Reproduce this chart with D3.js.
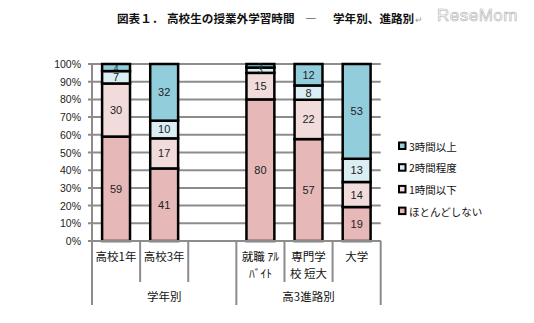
<!DOCTYPE html>
<html>
<head>
<meta charset="utf-8">
<script src="https://cdn.jsdelivr.net/npm/d3@7"></script>
<style>
  html, body { margin: 0; padding: 0; background: #fff; }
  svg { display: block; font-family: "Noto Sans CJK JP", "Noto Sans", sans-serif; }
</style>
</head>
<body>
<svg id="chart" width="534" height="323"></svg>
<script>
// Categories (label lines) and their groups
const categories = ["c1", "c3", "gap", "job", "voc", "univ"];
const categoryLines = [["高校1年"], ["高校3年"], [""], ["就職 ｱﾙ", "ﾊﾞｲﾄ"], ["専門学", "校 短大"], ["大学"]];
const groups = ["学年別", "高3進路別"];
const groupSpans = [[0, 3], [3, 6]];

// Series, bottom to top
const seriesNames = ["ほとんどしない", "1時間以下", "2時間程度", "3時間以上"];
const seriesColors = ["#E6B9B8", "#F2DCDB", "#DAEEF3", "#92CDDC"];
const nearlyNone = [59, 41, 0, 80, 57, 19];
const upTo1h     = [30, 17, 0, 15, 22, 14];
const about2h    = [7, 10, 0, 3, 8, 13];
const over3h     = [4, 32, 0, 2, 12, 53];
const seriesValues = [nearlyNone, upTo1h, about2h, over3h];

const yTicks = [0, 0.1, 0.2, 0.3, 0.4, 0.5, 0.6, 0.7, 0.8, 0.9, 1];

const svg = d3.select("#chart");

// Title and logo
const title = svg.append("text").attr("y", 23)
  .attr("font-size", 11.6).attr("font-weight", "bold").attr("fill", "#111");
title.append("tspan").attr("x", 117).text("図表１．");
title.append("tspan").attr("x", 167).text("高校生の授業外学習時間");
title.append("tspan").attr("x", 305).text("―");
title.append("tspan").attr("x", 333).text("学年別、進路別");
svg.append("text").attr("x", 415).attr("y", 23)
  .attr("font-size", 9).attr("fill", "#999").text("↵");
svg.append("text").attr("x", 437).attr("y", 21)
  .attr("font-size", 17).attr("font-family", "Liberation Sans, sans-serif")
  .attr("fill", "#fff").attr("stroke", "#b0b0b0").attr("stroke-width", 0.6)
  .attr("letter-spacing", 0.5).text("ReseMom");

const x0 = 92, x1 = 380.7, yTop = 64, yBot = 241;

const x = d3.scaleBand().domain(categories).range([x0, x1]).padding(0);
const y = d3.scaleLinear().domain([0, 1]).range([yBot, yTop]);
const barW = x.bandwidth() * 0.58;

// Gridlines
svg.append("g").selectAll("line").data(yTicks).join("line")
  .attr("x1", x0 - 4).attr("x2", x1)
  .attr("y1", d => y(d)).attr("y2", d => y(d))
  .attr("stroke", "#8c8c8c").attr("stroke-width", 2);

// Y axis line
svg.append("line").attr("x1", x0).attr("x2", x0).attr("y1", yTop).attr("y2", yBot)
  .attr("stroke", "#8c8c8c").attr("stroke-width", 2);

// Y tick labels
svg.append("g").selectAll("text").data(yTicks).join("text")
  .attr("x", 81).attr("y", d => y(d) + 4)
  .attr("text-anchor", "end").attr("font-size", 10.5).attr("fill", "#222")
  .attr("font-family", "Liberation Sans, Noto Sans, sans-serif")
  .text(d => d3.format(".0%")(d));

// Stacked data (each column expanded to 100%)
const table = categories.map((c, i) => {
  const row = { cat: c };
  seriesNames.forEach((s, k) => { row[s] = seriesValues[k][i]; });
  return row;
});
const stacked = d3.stack().keys(seriesNames).offset(d3.stackOffsetExpand)(table);

const layers = svg.append("g").selectAll("g").data(stacked).join("g")
  .attr("fill", (d, k) => seriesColors[k]);

layers.selectAll("rect").data(d => d.filter(p => p.data[d.key] > 0)).join("rect")
  .attr("x", p => x(p.data.cat) + (x.bandwidth() - barW) / 2)
  .attr("width", barW)
  .attr("y", p => y(p[1]))
  .attr("height", p => y(p[0]) - y(p[1]))
  .attr("stroke", "#000").attr("stroke-width", 2.5);

// Segment value labels (thin segments get a smaller label)
stacked.forEach(layer => {
  svg.append("g").selectAll("text").data(layer.filter(p => p.data[layer.key] > 0)).join("text")
    .attr("x", p => x(p.data.cat) + x.bandwidth() / 2)
    .attr("y", p => y((p[0] + p[1]) / 2) + (p[1] - p[0] < 0.05 ? 3 : 4))
    .attr("text-anchor", "middle")
    .attr("font-size", p => p[1] - p[0] < 0.05 ? 8.5 : 11)
    .attr("fill", "#222")
    .attr("font-family", "Liberation Sans, Noto Sans, sans-serif")
    .text(p => p.data[layer.key]);
});

// X axis line
svg.append("line").attr("x1", x0).attr("x2", x1).attr("y1", yBot).attr("y2", yBot)
  .attr("stroke", "#8c8c8c").attr("stroke-width", 2);

// Category separators: long at group edges, short inside groups
const edges = d3.range(categories.length + 1);
const groupEdges = new Set(groupSpans.flat());
svg.append("g").selectAll("line").data(edges).join("line")
  .attr("x1", i => x0 + i * x.step()).attr("x2", i => x0 + i * x.step())
  .attr("y1", yBot).attr("y2", i => groupEdges.has(i) ? 305 : 282)
  .attr("stroke", "#8c8c8c").attr("stroke-width", 2);

// Category labels
const catText = svg.append("g").selectAll("text").data(categories).join("text")
  .attr("text-anchor", "middle").attr("font-size", 11.5).attr("fill", "#111");
catText.each(function (c, i) {
  const t = d3.select(this);
  categoryLines[i].forEach((line, li) => {
    t.append("tspan").attr("x", x(c) + x.bandwidth() / 2)
      .attr("y", 261 + li * 17).text(line);
  });
});

// Group labels
svg.append("g").selectAll("text").data(groups).join("text")
  .attr("x", (g, i) => x0 + (groupSpans[i][0] + groupSpans[i][1]) / 2 * x.step())
  .attr("y", 301).attr("text-anchor", "middle")
  .attr("font-size", 11.5).attr("fill", "#111").text(g => g);

// Legend, top entry is the top series
const legendOrder = seriesNames.map((s, k) => k).reverse();
const legend = svg.append("g").selectAll("g").data(legendOrder).join("g")
  .attr("transform", (k, r) => `translate(399, ${147 + r * 21.7})`);
legend.append("rect").attr("x", 0).attr("y", -4.5).attr("width", 6.5).attr("height", 6.5)
  .attr("fill", k => seriesColors[k]).attr("stroke", "#000").attr("stroke-width", 2);
legend.append("text").attr("x", 10).attr("y", 3.5)
  .attr("font-size", 10.5).attr("fill", "#111").text(k => seriesNames[k]);
</script>
</body>
</html>
